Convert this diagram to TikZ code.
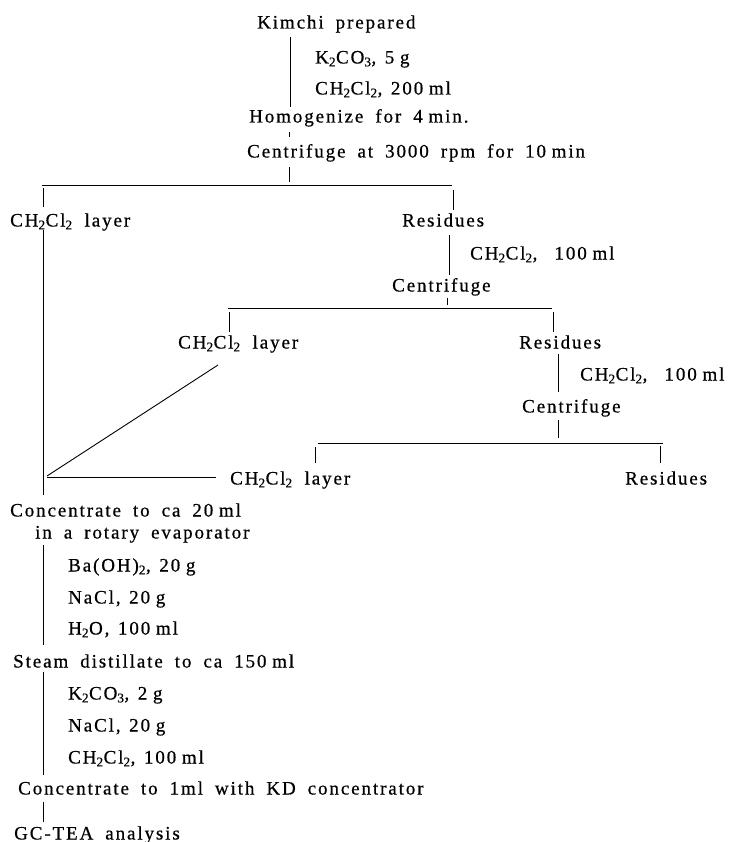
\documentclass[tikz,border=0pt]{standalone}
\usepackage{fontspec}
\setmainfont{Liberation Serif}[LetterSpace=10, WordSpace=1.8, FakeBold=0.6]
\newcommand{\dcm}{CH\textsubscript{2}Cl\textsubscript{2}}
\newcommand{\gap}{\hspace{0.45em}}
\newcommand{\nsp}{\hspace{0.3em}}
\begin{document}
\begin{tikzpicture}[x=1pt,y=-1pt,
  lbl/.style={anchor=west,inner sep=0pt,text height=13pt,text depth=0pt,font=\fontsize{19}{22}\selectfont},
  ln/.style={line width=0.9pt}]
\useasboundingbox (0,0) rectangle (736,842);
% texts
\node[lbl] (n1) at (257,22) {Kimchi prepared};
\node[lbl] (a1) at (315,57) {K\textsubscript{2}CO\textsubscript{3},\gap 5\nsp g};
\node[lbl] (a2) at (315,88) {\dcm,\gap 200\nsp ml};
\node[lbl] (n2) at (249,116) {Homogenize for 4\nsp min.};
\node[lbl] (n3) at (247,151) {Centrifuge at 3000 rpm for 10\nsp min};
\node[lbl] (l1) at (10,220) {\dcm\ layer};
\node[lbl] (r1) at (402,220) {Residues};
\node[lbl] (b1) at (470,253) {\dcm,\gap\gap 100\nsp ml};
\node[lbl] (c2) at (392,285) {Centrifuge};
\node[lbl] (l2) at (178,342) {\dcm\ layer};
\node[lbl] (r2) at (519,342) {Residues};
\node[lbl] (b2) at (580,374) {\dcm,\gap\gap 100\nsp ml};
\node[lbl] (c3) at (522,406) {Centrifuge};
\node[lbl] (l3) at (230,478) {\dcm\ layer};
\node[lbl] (r3) at (625,478) {Residues};
\node[lbl] (n4) at (10,510) {Concentrate to ca 20\nsp ml};
\node[lbl] (n4b) at (35,532) {in a rotary evaporator};
\node[lbl] (d1) at (68,565) {Ba(OH)\textsubscript{2},\gap 20\nsp g};
\node[lbl] (d2) at (68,597) {NaCl,\gap 20\nsp g};
\node[lbl] (d3) at (68,628) {H\textsubscript{2}O,\gap 100\nsp ml};
\node[lbl] (n5) at (13,661) {Steam distillate to ca 150\nsp ml};
\node[lbl] (e1) at (68,693) {K\textsubscript{2}CO\textsubscript{3},\gap 2\nsp g};
\node[lbl] (e2) at (68,725) {NaCl,\gap 20\nsp g};
\node[lbl] (e3) at (68,757) {\dcm,\gap 100\nsp ml};
\node[lbl] (n6) at (18,788) {Concentrate to 1ml with KD concentrator};
\node[lbl] (n7) at (14,833) {GC-TEA analysis};
% coordinates
\coordinate (v1a) at (290,37);  \coordinate (v1b) at (290,107);
\coordinate (t1a) at (289,132); \coordinate (t1b) at (289,137);
\coordinate (t2a) at (289,167); \coordinate (t2b) at (289,182);
\coordinate (h1a) at (42,185);  \coordinate (h1b) at (452,185);
\coordinate (t3a) at (43,188);  \coordinate (t3b) at (43,207);
\coordinate (t4a) at (453,190); \coordinate (t4b) at (453,210);
\coordinate (v2a) at (43,230);  \coordinate (v2b) at (43,495);
\coordinate (v3a) at (449,235); \coordinate (v3b) at (449,275);
\coordinate (t5a) at (447,298); \coordinate (t5b) at (447,305);
\coordinate (h2a) at (228,308); \coordinate (h2b) at (552,308);
\coordinate (t6a) at (229,312); \coordinate (t6b) at (229,332);
\coordinate (t7a) at (553,312); \coordinate (t7b) at (553,332);
\coordinate (v4a) at (558,354); \coordinate (v4b) at (558,392);
\coordinate (t8a) at (558,420); \coordinate (t8b) at (558,438);
\coordinate (h3a) at (318,443); \coordinate (h3b) at (663,443);
\coordinate (t9a) at (315,447); \coordinate (t9b) at (315,463);
\coordinate (t10a) at (660,446); \coordinate (t10b) at (660,463);
\coordinate (dg1) at (218,365); \coordinate (dg2) at (47,476);
\coordinate (h4a) at (47,477);  \coordinate (h4b) at (216,477);
\coordinate (v5a) at (43,545);  \coordinate (v5b) at (43,645);
\coordinate (v6a) at (43,672);  \coordinate (v6b) at (43,775);
\coordinate (t11a) at (43,802); \coordinate (t11b) at (43,822);
% connectors
\draw[ln] (v1a) -- (v1b);
\draw[ln] (t1a) -- (t1b);
\draw[ln] (t2a) -- (t2b);
\draw[ln] (h1a) -- (h1b);
\draw[ln] (t3a) -- (t3b);
\draw[ln] (t4a) -- (t4b);
\draw[ln] (v2a) -- (v2b);
\draw[ln] (v3a) -- (v3b);
\draw[ln] (t5a) -- (t5b);
\draw[ln] (h2a) -- (h2b);
\draw[ln] (t6a) -- (t6b);
\draw[ln] (t7a) -- (t7b);
\draw[ln] (v4a) -- (v4b);
\draw[ln] (t8a) -- (t8b);
\draw[ln] (h3a) -- (h3b);
\draw[ln] (t9a) -- (t9b);
\draw[ln] (t10a) -- (t10b);
\draw[ln] (dg1) -- (dg2);
\draw[ln] (h4a) -- (h4b);
\draw[ln] (v5a) -- (v5b);
\draw[ln] (v6a) -- (v6b);
\draw[ln] (t11a) -- (t11b);
\end{tikzpicture}
\end{document}
